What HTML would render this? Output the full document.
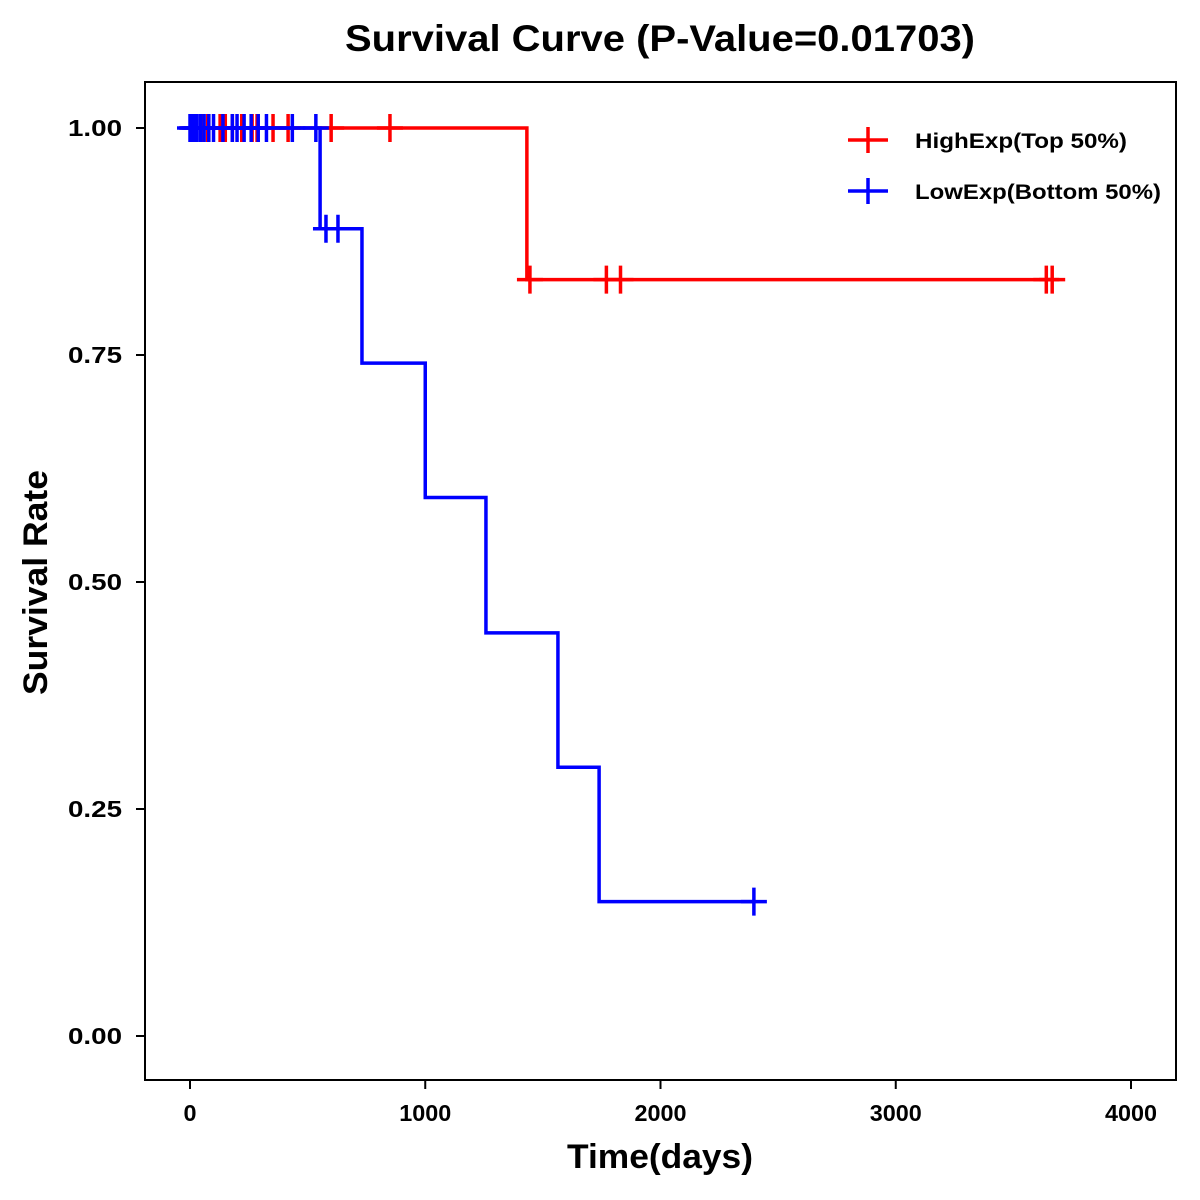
<!DOCTYPE html>
<html><head><meta charset="utf-8">
<style>
html,body{margin:0;padding:0;background:#fff;}
svg{display:block;font-family:"Liberation Sans",Arial,sans-serif;}
</style></head>
<body>
<svg id="chart" width="1200" height="1200" viewBox="0 0 1200 1200">
  <rect x="0" y="0" width="1200" height="1200" fill="#fff"/>
  <text x="345" y="51" font-size="37" font-weight="bold" textLength="630" lengthAdjust="spacingAndGlyphs">Survival Curve (P-Value=0.01703)</text>
  <rect x="145" y="82" width="1031" height="998" fill="none" stroke="#000" stroke-width="2"/>
  <g id="axes"></g>
  <g id="series"></g>
  <text x="567" y="1168" font-size="34" font-weight="bold" textLength="186" lengthAdjust="spacingAndGlyphs">Time(days)</text>
  <text transform="translate(47,695) rotate(-90)" font-size="34" font-weight="bold" textLength="225" lengthAdjust="spacingAndGlyphs">Survival Rate</text>
  <g>
    <g>
      <line x1="848" y1="140" x2="888" y2="140" stroke="#f00" stroke-width="3.5"/>
      <line x1="868" y1="127" x2="868" y2="153" stroke="#f00" stroke-width="3.5"/>
      <text x="915" y="148" font-size="21" font-weight="bold" textLength="212" lengthAdjust="spacingAndGlyphs">HighExp(Top 50%)</text>
    </g>
    <g>
      <line x1="848" y1="191" x2="888" y2="191" stroke="#00f" stroke-width="3.5"/>
      <line x1="868" y1="178" x2="868" y2="204" stroke="#00f" stroke-width="3.5"/>
      <text x="915" y="199" font-size="21" font-weight="bold" textLength="246" lengthAdjust="spacingAndGlyphs">LowExp(Bottom 50%)</text>
    </g>
  </g>
</svg>
<script>
const xTicks = [0, 1000, 2000, 3000, 4000];
const yTicks = [0, 0.25, 0.5, 0.75, 1.0];
const yTickLabels = ["0.00", "0.25", "0.50", "0.75", "1.00"];
const highTimes = [0, 1432, 3665];
const highSurv = [1.0, 0.833, 0.833];
const highCensor = [10, 25, 50, 75, 128, 150, 180, 220, 264, 285, 353, 417, 600, 850, 1445, 1770, 1830, 3640, 3665];
const lowTimes = [0, 553, 731, 1000, 1258, 1564, 1739, 2397];
const lowSurv = [1.0, 0.889, 0.741, 0.593, 0.444, 0.296, 0.148, 0.148];
const lowCensor = [0, 10, 20, 30, 45, 60, 80, 100, 140, 180, 200, 230, 260, 290, 325, 435, 535];
const lowCensor2 = [578, 629, 2397];

const NS = "http://www.w3.org/2000/svg";
const xs = t => 190 + t * 0.23525;
const ys = v => 1036 - v * 908;
function mk(tag, attrs, parent) {
  const e = document.createElementNS(NS, tag);
  for (const k in attrs) e.setAttribute(k, attrs[k]);
  parent.appendChild(e);
  return e;
}
const axes = document.getElementById("axes");
xTicks.forEach(t => {
  const l = mk("line", {x1: xs(t), x2: xs(t), y1: 1080, y2: 1089, stroke: "#000", "stroke-width": 2}, axes);
  
  
  const s = String(t);
  const tx = mk("text", {x: xs(t), y: 1121, "text-anchor": "middle", "font-size": 23, "font-weight": "bold", textLength: s.length * 13, lengthAdjust: "spacingAndGlyphs"}, axes);
  tx.textContent = s;
  
  
});
yTicks.forEach((v, i) => {
  const l = mk("line", {x1: 136, x2: 145, y1: ys(v), y2: ys(v), stroke: "#000", "stroke-width": 2}, axes);
  
  
  const tx = mk("text", {x: 122, y: ys(v) + 8, "text-anchor": "end", "font-size": 23, "font-weight": "bold", textLength: 54, lengthAdjust: "spacingAndGlyphs"}, axes);
  tx.textContent = yTickLabels[i];
  
  
});
const series = document.getElementById("series");
function stepPath(times, surv) {
  let d = "M" + xs(times[0]) + "," + ys(surv[0]);
  for (let i = 1; i < times.length; i++) {
    d += " H" + xs(times[i]) + " V" + ys(surv[i]);
  }
  return d;
}
function survAt(times, surv, t) {
  let s = surv[0];
  for (let i = 0; i < times.length; i++) if (times[i] <= t) s = surv[i];
  return s;
}
function censorMarks(list, times, surv, color, g) {
  list.forEach(t => {
    const cx = xs(t), cy = ys(survAt(times, surv, t));
    const p = mk("path", {d: `M${cx-13},${cy} H${cx+13} M${cx},${cy-14} V${cy+14}`, stroke: color, "stroke-width": 3.5, fill: "none"}, g);
    
    
  });
}
const gHigh = mk("g", {}, series);


const ph = mk("path", {d: stepPath(highTimes, highSurv), stroke: "#f00", "stroke-width": 3.5, fill: "none"}, gHigh);


censorMarks(highCensor, highTimes, highSurv, "#f00", gHigh);

const gLow = mk("g", {}, series);


const pl = mk("path", {d: stepPath(lowTimes, lowSurv), stroke: "#00f", "stroke-width": 3.5, fill: "none"}, gLow);


censorMarks(lowCensor, lowTimes, lowSurv, "#00f", gLow);
censorMarks(lowCensor2, lowTimes, lowSurv, "#00f", gLow);
</script>
</body></html>
